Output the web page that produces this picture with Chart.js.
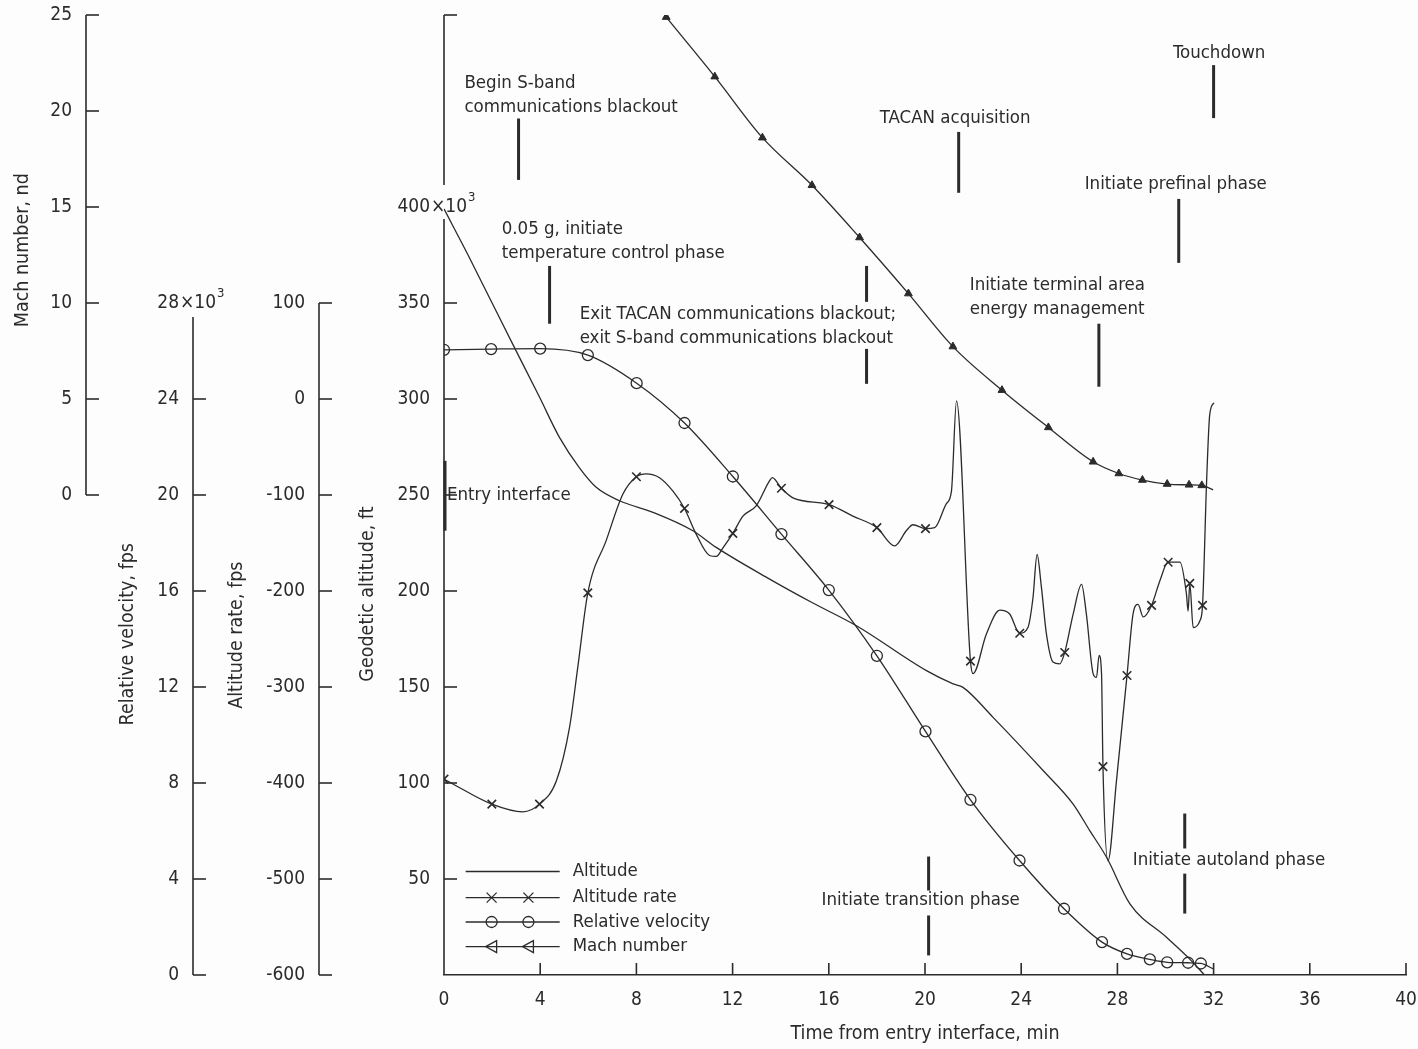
<!DOCTYPE html>
<html>
<head>
<meta charset="utf-8">
<script src="https://cdn.jsdelivr.net/npm/chart.js@4.4.1/dist/chart.umd.min.js"></script>
<style>
  html, body { margin: 0; padding: 0; background: #fdfdfd; }
  canvas { display: block; }
</style>
</head>
<body>
<canvas id="chart" width="1418" height="1049"></canvas>
<script>
const FONT = '"DejaVu Sans Condensed", "DejaVu Sans", sans-serif';
const INK = '#2b2b2b';

// tick labels
const timeTicks = [0, 4, 8, 12, 16, 20, 24, 28, 32, 36, 40];
const machTicks = [0, 5, 10, 15, 20, 25];
const velTicks = [0, 4, 8, 12, 16, 20, 24, 28];
const rateTicks = [-600, -500, -400, -300, -200, -100, 0, 100];
const geoTicks = [50, 100, 150, 200, 250, 300, 350, 400];

// geodetic altitude, thousand ft
const altTime = [0, 1, 2, 2.8, 3.97, 4.8, 5.64, 6.33, 7.3, 8.69, 10.35, 11.32, 13.54, 15.3, 17.15,
  20.06, 21.17, 21.58, 22.83, 24.91, 26.16, 26.85, 27.55, 28.52, 30.04, 31.0, 31.62];
const altValue = [399, 375, 350, 330, 301, 280, 264, 254, 247, 241, 231.4, 222.7, 206.2, 194, 181.9,
  158.5, 151.6, 149.8, 134.2, 106.5, 89, 75.2, 61.3, 37.1, 19.7, 8.4, 0];

// altitude rate, fps
const rateTime = [0, 0.37, 1.99, 3.28, 3.97, 4.67, 5.22, 5.57, 5.98, 6.75, 7.44, 8.0, 8.41, 8.96, 9.52,
  10.0, 10.49, 11.04, 11.32, 11.6, 12.01, 12.43, 12.99, 13.54, 13.65, 14.03, 14.51, 16.01, 17.0, 18.0,
  18.74, 19.23, 19.5, 20.02, 20.4, 20.89, 21.1, 21.31, 21.89, 22.0, 22.55, 23.11, 23.52, 23.94, 24.28,
  24.49, 24.66, 24.84, 25.05, 25.32, 25.6, 25.81, 26.16, 26.51, 26.71, 26.99, 27.13, 27.24, 27.34, 27.4,
  27.61, 27.96, 28.4, 28.65, 28.86, 29.07, 29.42, 29.77, 30.11, 30.6, 30.87, 30.94, 31.01, 31.15, 31.43,
  31.54, 31.71, 31.84, 32.01];
const rateValue = [-396, -401, -422, -430, -422, -398, -342, -278, -202, -147, -99, -81, -78, -82, -96,
  -114, -141, -163, -164, -155, -140, -122, -111, -85, -82, -93, -103, -110, -122, -134,
  -153, -137, -131, -135, -134, -109, -96, -2, -273, -286, -245, -220, -224, -244, -238,
  -207, -162, -196, -245, -274, -276, -264, -224, -193, -224, -286, -290, -267, -286, -383,
  -481, -398, -288, -224, -214, -227, -215, -189, -170, -170, -203, -221, -192, -238, -231,
  -215, -85, -16, -4];
const rateMarkTime = [0, 1.99, 3.97, 5.98, 8.0, 10.0, 12.01, 14.03, 16.01, 18.0, 20.02, 21.89, 23.94,
  25.81, 27.4, 28.4, 29.42, 30.11, 31.01, 31.54];
const rateMarkValue = [-396, -422, -422, -202, -81, -114, -140, -93, -110, -134, -135, -273, -244,
  -264, -383, -288, -215, -170, -192, -215];

// relative velocity, thousand fps
const velTime = [0, 1.96, 4.0, 5.98, 8.01, 10.0, 12.01, 14.03, 16.0, 18.0, 20.02, 21.89, 23.93, 25.78,
  27.36, 28.4, 29.35, 30.07, 30.94, 31.47, 31.98];
const velValue = [26.05, 26.08, 26.1, 25.83, 24.66, 23.0, 20.77, 18.37, 16.04, 13.3, 10.15, 7.3, 4.77, 2.76,
  1.37, 0.88, 0.65, 0.53, 0.51, 0.48, 0.26];

// Mach number
const machTime = [9.24, 11.26, 13.24, 15.3, 17.28, 19.31, 21.16, 23.2, 25.13, 26.99, 28.06, 29.04, 30.07,
  30.98, 31.51, 31.98];
const machValue = [24.89, 21.79, 18.61, 16.13, 13.41, 10.49, 7.73, 5.46, 3.52, 1.73, 1.12, 0.78, 0.57,
  0.53, 0.5, 0.27];

// event notes: time (min) and geodetic altitude (thousand ft) of the first text line
const notes = [
  { t: 0.85, a: 464.6, lines: ['Begin S-band', 'communications blackout'] },
  { t: 2.4, a: 388.6, lines: ['0.05 g, initiate', 'temperature control phase'] },
  { t: 5.64, a: 344.3, lines: ['Exit TACAN communications blackout;', 'exit S-band communications blackout'] },
  { t: 18.12, a: 446.4, lines: ['TACAN acquisition'] },
  { t: 21.86, a: 359.4, lines: ['Initiate terminal area', 'energy management'] },
  { t: 26.64, a: 412.0, lines: ['Initiate prefinal phase'] },
  { t: 30.31, a: 480.2, lines: ['Touchdown'] },
  { t: 0.12, a: 250.1, lines: ['Entry interface'] },
  { t: 15.7, a: 38.8, lines: ['Initiate transition phase'] },
  { t: 28.64, a: 59.6, lines: ['Initiate autoland phase'] }
];
const bars = [
  { t: 3.1, from: 446.1, to: 414.1 },
  { t: 4.39, from: 369.3, to: 339.2 },
  { t: 17.57, from: 369.3, to: 350.6 },
  { t: 17.57, from: 326.1, to: 307.9 },
  { t: 21.4, from: 439.1, to: 407.4 },
  { t: 27.23, from: 339.2, to: 306.4 },
  { t: 30.55, from: 404.2, to: 370.9 },
  { t: 32.0, from: 473.9, to: 446.3 },
  { t: 0.0, from: 267.8, to: 231.4 },
  { t: 20.15, from: 61.7, to: 44.0 },
  { t: 20.15, from: 31.0, to: 10.2 },
  { t: 30.8, from: 84.1, to: 65.9 },
  { t: 30.8, from: 52.8, to: 32.0 }
];

const legendRows = [
  { text: 'Altitude', mark: null, a: 53.9 },
  { text: 'Altitude rate', mark: 'x', a: 40.3 },
  { text: 'Relative velocity', mark: 'o', a: 27.6 },
  { text: 'Mach number', mark: 'tri', a: 14.8 }
];

const pts = (xs, ys) => xs.map((x, i) => ({ x: x, y: ys[i] }));
const tickFont = { family: FONT, size: 19 };
const textFont = { family: FONT, size: 19.5 };
const NOTE_PX = 18.5;

function yScale(weight, min, max, width, ticks) {
  return {
    type: 'linear', position: 'left', weight: weight, min: min, max: max,
    afterBuildTicks: s => { s.ticks = ticks.map(v => ({ value: v })); },
    afterFit: s => { s.width = width; s.paddingTop = 0; s.paddingBottom = 0; },
    grid: { display: false, drawTicks: false },
    border: { display: false },
    ticks: { padding: 14, font: tickFont, color: INK, autoSkip: false }
  };
}

const decor = {
  id: 'decor',
  beforeDraw(chart) {
    const ctx = chart.ctx;
    ctx.save();
    ctx.fillStyle = '#fdfdfd';
    ctx.fillRect(0, 0, chart.width, chart.height);
    ctx.restore();
  },
  afterDraw(chart) {
    const ctx = chart.ctx;
    const s = chart.scales;
    const X = v => s.x.getPixelForValue(v);
    const G = v => s.geo.getPixelForValue(v);
    ctx.save();
    ctx.strokeStyle = INK;
    ctx.fillStyle = INK;
    ctx.lineWidth = 1.6;
    const line = (x0, y0, x1, y1) => { ctx.beginPath(); ctx.moveTo(x0, y0); ctx.lineTo(x1, y1); ctx.stroke(); };
    const marks = (scale, vals) => vals.forEach(v => {
      const y = scale.getPixelForValue(v);
      line(scale.right, y, scale.right + 13, y);
    });

    // axis lines and inward tick marks
    line(s.mach.right, s.mach.getPixelForValue(25), s.mach.right, s.mach.getPixelForValue(0));
    marks(s.mach, machTicks);
    line(s.vel.right, s.vel.getPixelForValue(28) + 14, s.vel.right, s.vel.getPixelForValue(0));
    marks(s.vel, velTicks.filter(v => v !== 28));
    line(s.rate.right, s.rate.getPixelForValue(100), s.rate.right, s.rate.getPixelForValue(-600));
    marks(s.rate, rateTicks);
    line(s.geo.right, G(500), s.geo.right, G(400) - 22);
    line(s.geo.right, G(400) + 12, s.geo.right, G(0));
    marks(s.geo, geoTicks.filter(v => v !== 400).concat([500]));
    timeTicks.filter(v => v !== 0).forEach(v => line(X(v), s.x.top, X(v), s.x.top - 12));

    // "x10^3" after the top labels
    const sci = (scale, value) => {
      const x = scale.right - 14 + 1;
      const y = scale.getPixelForValue(value);
      ctx.textAlign = 'left';
      ctx.textBaseline = 'middle';
      ctx.font = `${tickFont.size}px ${FONT}`;
      ctx.fillText('\u00d710', x, y);
      const w = ctx.measureText('\u00d710').width;
      ctx.font = `13px ${FONT}`;
      ctx.fillText('3', x + w + 1, y - 9);
    };
    sci(s.vel, 28);
    sci(s.geo, 400);

    // axis titles
    ctx.font = `${textFont.size}px ${FONT}`;
    const vtext = (txt, x, y) => {
      ctx.save();
      ctx.translate(x, y);
      ctx.rotate(-Math.PI / 2);
      ctx.textAlign = 'center';
      ctx.textBaseline = 'middle';
      ctx.fillText(txt, 0, 0);
      ctx.restore();
    };
    vtext('Mach number, nd', s.mach.left + 23, s.mach.getPixelForValue(12.75));
    vtext('Relative velocity, fps', s.vel.left + 42, s.vel.getPixelForValue(14.2));
    vtext('Altitude rate, fps', s.rate.left + 44, s.rate.getPixelForValue(-246));
    vtext('Geodetic altitude, ft', s.geo.left + 49, G(198.4));

    // event notes and bars
    ctx.font = `${NOTE_PX}px ${FONT}`;
    ctx.textAlign = 'left';
    ctx.textBaseline = 'middle';
    notes.forEach(n => n.lines.forEach((txt, i) => ctx.fillText(txt, X(n.t), G(n.a) + i * 24)));
    ctx.lineWidth = 3;
    bars.forEach(b => {
      const x = X(b.t) + (b.t === 0 ? 1 : 0);
      line(x, G(b.from), x, G(b.to));
    });

    // legend
    ctx.lineWidth = 1.3;
    const lx0 = X(0.9), lx1 = X(4.81), m1 = X(1.98), m2 = X(3.51), tx = X(5.35);
    legendRows.forEach(r => {
      const y = G(r.a);
      line(lx0, y, lx1, y);
      [m1, m2].forEach(mx => {
        if (r.mark === 'x') {
          line(mx - 5, y - 5, mx + 5, y + 5);
          line(mx - 5, y + 5, mx + 5, y - 5);
        } else if (r.mark === 'o') {
          ctx.beginPath(); ctx.arc(mx, y, 5.5, 0, Math.PI * 2); ctx.stroke();
        } else if (r.mark === 'tri') {
          ctx.beginPath(); ctx.moveTo(mx - 6, y); ctx.lineTo(mx + 5, y - 6); ctx.lineTo(mx + 5, y + 6);
          ctx.closePath(); ctx.stroke();
        }
      });
      ctx.fillText(r.text, tx, y);
    });
    ctx.restore();
  }
};

new Chart(document.getElementById('chart'), {
  type: 'line',
  data: {
    datasets: [
      {
        label: 'Altitude', data: pts(altTime, altValue), yAxisID: 'geo',
        borderColor: INK, borderWidth: 1.3, pointRadius: 0, cubicInterpolationMode: 'monotone'
      },
      {
        label: 'Altitude rate', data: pts(rateTime, rateValue), yAxisID: 'rate',
        borderColor: INK, borderWidth: 1.3, pointRadius: 0, cubicInterpolationMode: 'monotone'
      },
      {
        label: 'Altitude rate marks', data: pts(rateMarkTime, rateMarkValue), yAxisID: 'rate',
        showLine: false, pointStyle: 'crossRot', pointRadius: 6, pointBorderWidth: 1.6,
        pointBorderColor: INK, pointBackgroundColor: INK
      },
      {
        label: 'Relative velocity', data: pts(velTime, velValue), yAxisID: 'vel',
        borderColor: INK, borderWidth: 1.3, cubicInterpolationMode: 'monotone',
        pointStyle: 'circle', pointRadius: c => (c.dataIndex === velTime.length - 1 ? 0 : 5.5),
        pointBorderWidth: 1.3, pointBorderColor: INK, pointBackgroundColor: 'rgba(0,0,0,0)'
      },
      {
        label: 'Mach number', data: pts(machTime, machValue), yAxisID: 'mach',
        borderColor: INK, borderWidth: 1.3, cubicInterpolationMode: 'monotone',
        pointStyle: 'triangle', pointRadius: c => (c.dataIndex === machTime.length - 1 ? 0 : 4.5),
        pointBorderWidth: 1, pointBorderColor: INK, pointBackgroundColor: INK
      }
    ]
  },
  options: {
    responsive: false,
    animation: false,
    layout: { padding: { top: 15, right: 12, left: 0, bottom: 0 } },
    plugins: { legend: { display: false }, tooltip: { enabled: false } },
    scales: {
      x: {
        type: 'linear', position: 'bottom', min: 0, max: 40,
        afterBuildTicks: s => { s.ticks = timeTicks.map(v => ({ value: v })); },
        afterFit: s => { s.height = 74; s.paddingLeft = 0; s.paddingRight = 0; },
        grid: { display: false, drawTicks: false },
        border: { display: true, color: INK, width: 1.6 },
        ticks: { padding: 14, font: tickFont, color: INK, autoSkip: false, maxRotation: 0 },
        title: {
          display: true, text: 'Time from entry interface, min', font: textFont, color: INK,
          padding: { top: 4, bottom: 3 }
        }
      },
      mach: yScale(4, -25, 25, 86, machTicks),
      vel: yScale(3, 0, 40, 107, velTicks),
      rate: yScale(2, -600, 400, 126, rateTicks),
      geo: yScale(1, 0, 500, 125, geoTicks)
    }
  },
  plugins: [decor]
});
</script>
</body>
</html>
